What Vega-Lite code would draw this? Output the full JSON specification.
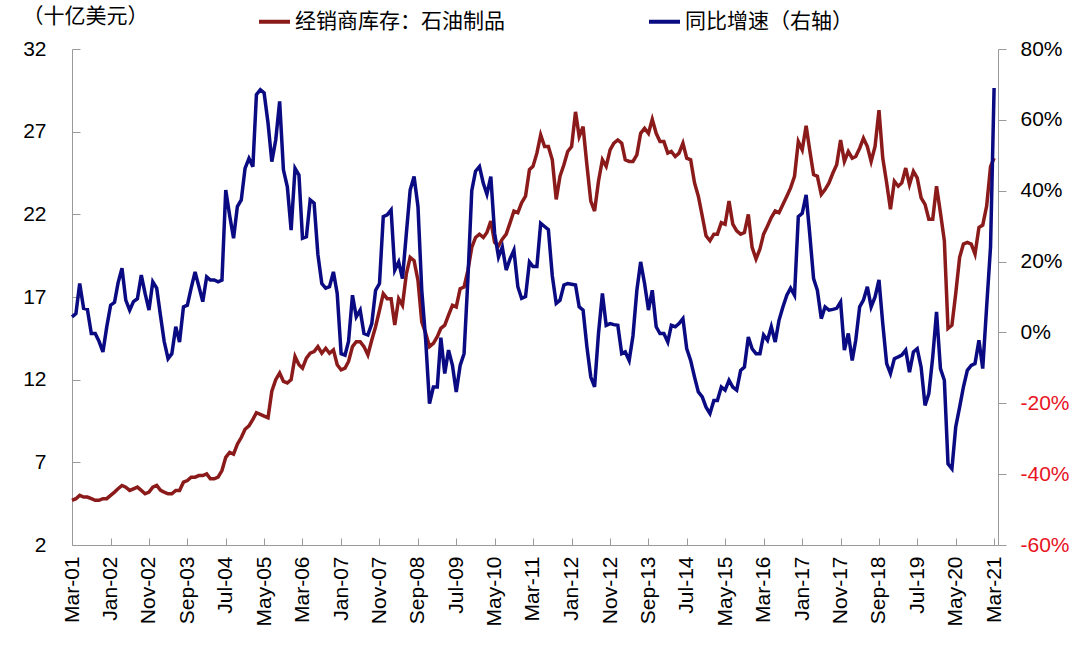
{
"$schema": "https://vega.github.io/schema/vega-lite/v6.json",
"autosize": {"type": "none"},
"padding": {"left": 72, "top": 49, "right": 82, "bottom": 103},
"width": 926,
"height": 496,
"background": "white",
"data": {"values": [
{"d":"2001-03-01","inv":4.7,"yoy":4.4},{"d":"2001-04-01","inv":4.8,"yoy":5.3},{"d":"2001-05-01","inv":5.0,"yoy":13.8},{"d":"2001-06-01","inv":4.9,"yoy":6.8},{"d":"2001-07-01","inv":4.9,"yoy":6.5},{"d":"2001-08-01","inv":4.8,"yoy":-0.3},{"d":"2001-09-01","inv":4.7,"yoy":-0.3},{"d":"2001-10-01","inv":4.7,"yoy":-2.5},{"d":"2001-11-01","inv":4.8,"yoy":-5.5},{"d":"2001-12-01","inv":4.8,"yoy":1.5},
{"d":"2002-01-01","inv":5.0,"yoy":7.7},{"d":"2002-02-01","inv":5.2,"yoy":8.5},{"d":"2002-03-01","inv":5.4,"yoy":14},{"d":"2002-04-01","inv":5.6,"yoy":18.1},{"d":"2002-05-01","inv":5.5,"yoy":9.1},{"d":"2002-06-01","inv":5.3,"yoy":6.3},{"d":"2002-07-01","inv":5.4,"yoy":8.7},{"d":"2002-08-01","inv":5.5,"yoy":9.5},{"d":"2002-09-01","inv":5.3,"yoy":16.2},{"d":"2002-10-01","inv":5.1,"yoy":11},{"d":"2002-11-01","inv":5.2,"yoy":6.3},{"d":"2002-12-01","inv":5.5,"yoy":14.3},
{"d":"2003-01-01","inv":5.6,"yoy":12.5},{"d":"2003-02-01","inv":5.3,"yoy":4.5},{"d":"2003-03-01","inv":5.2,"yoy":-2.5},{"d":"2003-04-01","inv":5.1,"yoy":-7.4},{"d":"2003-05-01","inv":5.1,"yoy":-6},{"d":"2003-06-01","inv":5.3,"yoy":1.6},{"d":"2003-07-01","inv":5.3,"yoy":-2.7},{"d":"2003-08-01","inv":5.8,"yoy":7.2},{"d":"2003-09-01","inv":5.9,"yoy":7.7},{"d":"2003-10-01","inv":6.1,"yoy":12.5},{"d":"2003-11-01","inv":6.1,"yoy":17.1},{"d":"2003-12-01","inv":6.2,"yoy":13},
{"d":"2004-01-01","inv":6.2,"yoy":8.7},{"d":"2004-02-01","inv":6.3,"yoy":15.7},{"d":"2004-03-01","inv":6.0,"yoy":14.8},{"d":"2004-04-01","inv":6.0,"yoy":14.8},{"d":"2004-05-01","inv":6.1,"yoy":14.3},{"d":"2004-06-01","inv":6.5,"yoy":14.8},{"d":"2004-07-01","inv":7.3,"yoy":40.2},{"d":"2004-08-01","inv":7.6,"yoy":33},{"d":"2004-09-01","inv":7.5,"yoy":26.6},{"d":"2004-10-01","inv":8.1,"yoy":35.5},{"d":"2004-11-01","inv":8.5,"yoy":37.4},{"d":"2004-12-01","inv":9.0,"yoy":46.3},
{"d":"2005-01-01","inv":9.2,"yoy":49.1},{"d":"2005-02-01","inv":9.6,"yoy":46.8},{"d":"2005-03-01","inv":10.0,"yoy":67.1},{"d":"2005-04-01","inv":9.9,"yoy":68.5},{"d":"2005-05-01","inv":9.8,"yoy":67.6},{"d":"2005-06-01","inv":9.7,"yoy":59.1},{"d":"2005-07-01","inv":11.3,"yoy":48.2},{"d":"2005-08-01","inv":12.0,"yoy":54.3},{"d":"2005-09-01","inv":12.4,"yoy":65.2},{"d":"2005-10-01","inv":11.9,"yoy":45.9},{"d":"2005-11-01","inv":11.8,"yoy":41.1},{"d":"2005-12-01","inv":12.0,"yoy":28.9},
{"d":"2006-01-01","inv":13.4,"yoy":46.3},{"d":"2006-02-01","inv":12.9,"yoy":44.4},{"d":"2006-03-01","inv":12.7,"yoy":26.6},{"d":"2006-04-01","inv":13.3,"yoy":27},{"d":"2006-05-01","inv":13.6,"yoy":37.4},{"d":"2006-06-01","inv":13.7,"yoy":36.5},{"d":"2006-07-01","inv":14.0,"yoy":22},{"d":"2006-08-01","inv":13.6,"yoy":13.8},{"d":"2006-09-01","inv":13.9,"yoy":12.5},{"d":"2006-10-01","inv":13.6,"yoy":12.9},{"d":"2006-11-01","inv":13.8,"yoy":17.1},{"d":"2006-12-01","inv":12.9,"yoy":11},
{"d":"2007-01-01","inv":12.6,"yoy":-6},{"d":"2007-02-01","inv":12.7,"yoy":-6.4},{"d":"2007-03-01","inv":13.1,"yoy":-2.5},{"d":"2007-04-01","inv":14.0,"yoy":10.5},{"d":"2007-05-01","inv":14.3,"yoy":4.4},{"d":"2007-06-01","inv":14.3,"yoy":6.3},{"d":"2007-07-01","inv":14.0,"yoy":-0.3},{"d":"2007-08-01","inv":13.5,"yoy":-0.7},{"d":"2007-09-01","inv":14.4,"yoy":2.5},{"d":"2007-10-01","inv":15.2,"yoy":11.9},{"d":"2007-11-01","inv":16.2,"yoy":13.8},{"d":"2007-12-01","inv":17.2,"yoy":32.7},
{"d":"2008-01-01","inv":16.9,"yoy":33.2},{"d":"2008-02-01","inv":16.9,"yoy":34.6},{"d":"2008-03-01","inv":15.3,"yoy":17.6},{"d":"2008-04-01","inv":16.9,"yoy":19.9},{"d":"2008-05-01","inv":16.5,"yoy":15.2},{"d":"2008-06-01","inv":18.4,"yoy":28},{"d":"2008-07-01","inv":19.4,"yoy":40.2},{"d":"2008-08-01","inv":19.2,"yoy":44},{"d":"2008-09-01","inv":18.0,"yoy":35.5},{"d":"2008-10-01","inv":15.5,"yoy":11.9},{"d":"2008-11-01","inv":14.8,"yoy":-2.2},{"d":"2008-12-01","inv":14.0,"yoy":-20.1},
{"d":"2009-01-01","inv":14.2,"yoy":-15.4},{"d":"2009-02-01","inv":14.6,"yoy":-15.4},{"d":"2009-03-01","inv":15.1,"yoy":-1.5},{"d":"2009-04-01","inv":15.3,"yoy":-11.6},{"d":"2009-05-01","inv":15.9,"yoy":-5},{"d":"2009-06-01","inv":16.5,"yoy":-9.3},{"d":"2009-07-01","inv":16.4,"yoy":-16.8},{"d":"2009-08-01","inv":17.5,"yoy":-9.3},{"d":"2009-09-01","inv":17.6,"yoy":-6},{"d":"2009-10-01","inv":18.6,"yoy":14.8},{"d":"2009-11-01","inv":20.0,"yoy":40},{"d":"2009-12-01","inv":20.6,"yoy":45.5},
{"d":"2010-01-01","inv":20.8,"yoy":46.8},{"d":"2010-02-01","inv":20.6,"yoy":42},{"d":"2010-03-01","inv":20.9,"yoy":39},{"d":"2010-04-01","inv":21.6,"yoy":44},{"d":"2010-05-01","inv":20.3,"yoy":28},{"d":"2010-06-01","inv":20.1,"yoy":21.3},{"d":"2010-07-01","inv":20.5,"yoy":24.1},{"d":"2010-08-01","inv":20.8,"yoy":17.6},{"d":"2010-09-01","inv":21.5,"yoy":20.8},{"d":"2010-10-01","inv":22.2,"yoy":23.2},{"d":"2010-11-01","inv":22.1,"yoy":12.9},{"d":"2010-12-01","inv":22.7,"yoy":9.6},
{"d":"2011-01-01","inv":23.1,"yoy":10.1},{"d":"2011-02-01","inv":24.7,"yoy":19.9},{"d":"2011-03-01","inv":24.9,"yoy":18.6},{"d":"2011-04-01","inv":25.7,"yoy":18.6},{"d":"2011-05-01","inv":26.8,"yoy":30.8},{"d":"2011-06-01","inv":26.1,"yoy":29.9},{"d":"2011-07-01","inv":26.1,"yoy":29},{"d":"2011-08-01","inv":25.3,"yoy":16},{"d":"2011-09-01","inv":22.9,"yoy":8.2},{"d":"2011-10-01","inv":24.3,"yoy":9.1},{"d":"2011-11-01","inv":25.0,"yoy":13.4},{"d":"2011-12-01","inv":25.8,"yoy":13.8},
{"d":"2012-01-01","inv":26.1,"yoy":13.6},{"d":"2012-02-01","inv":28.2,"yoy":13.4},{"d":"2012-03-01","inv":26.7,"yoy":7.2},{"d":"2012-04-01","inv":27.3,"yoy":6.3},{"d":"2012-05-01","inv":25.0,"yoy":-4},{"d":"2012-06-01","inv":22.8,"yoy":-12.6},{"d":"2012-07-01","inv":22.2,"yoy":-15.4},{"d":"2012-08-01","inv":24.0,"yoy":-0.3},{"d":"2012-09-01","inv":25.3,"yoy":11},{"d":"2012-10-01","inv":24.9,"yoy":2.0},{"d":"2012-11-01","inv":25.9,"yoy":2.5},{"d":"2012-12-01","inv":26.3,"yoy":2.2},
{"d":"2013-01-01","inv":26.5,"yoy":2.0},{"d":"2013-02-01","inv":26.3,"yoy":-6},{"d":"2013-03-01","inv":25.3,"yoy":-5.5},{"d":"2013-04-01","inv":25.2,"yoy":-7.9},{"d":"2013-05-01","inv":25.2,"yoy":-1},{"d":"2013-06-01","inv":25.6,"yoy":11.9},{"d":"2013-07-01","inv":26.9,"yoy":19.9},{"d":"2013-08-01","inv":27.2,"yoy":13.8},{"d":"2013-09-01","inv":26.9,"yoy":6.3},{"d":"2013-10-01","inv":27.75,"yoy":11.9},{"d":"2013-11-01","inv":26.9,"yoy":1.6},{"d":"2013-12-01","inv":26.4,"yoy":-0.3},
{"d":"2014-01-01","inv":26.4,"yoy":-0.3},{"d":"2014-02-01","inv":25.7,"yoy":-2.7},{"d":"2014-03-01","inv":25.8,"yoy":2.0},{"d":"2014-04-01","inv":25.5,"yoy":1.6},{"d":"2014-05-01","inv":25.7,"yoy":2.5},{"d":"2014-06-01","inv":26.3,"yoy":3.9},{"d":"2014-07-01","inv":25.4,"yoy":-4.6},{"d":"2014-08-01","inv":25.3,"yoy":-7.9},{"d":"2014-09-01","inv":23.9,"yoy":-12.6},{"d":"2014-10-01","inv":23.1,"yoy":-16.8},{"d":"2014-11-01","inv":21.9,"yoy":-18.2},{"d":"2014-12-01","inv":20.7,"yoy":-21.1},
{"d":"2015-01-01","inv":20.4,"yoy":-22.9},{"d":"2015-02-01","inv":20.8,"yoy":-19.2},{"d":"2015-03-01","inv":20.8,"yoy":-19.2},{"d":"2015-04-01","inv":21.5,"yoy":-15.4},{"d":"2015-05-01","inv":21.4,"yoy":-16.3},{"d":"2015-06-01","inv":22.8,"yoy":-13.5},{"d":"2015-07-01","inv":21.4,"yoy":-15.4},{"d":"2015-08-01","inv":21.0,"yoy":-16.3},{"d":"2015-09-01","inv":20.8,"yoy":-10.7},{"d":"2015-10-01","inv":20.9,"yoy":-9.8},{"d":"2015-11-01","inv":22.0,"yoy":-1.3},{"d":"2015-12-01","inv":20.0,"yoy":-4.6},
{"d":"2016-01-01","inv":19.3,"yoy":-6},{"d":"2016-02-01","inv":19.9,"yoy":-6},{"d":"2016-03-01","inv":20.8,"yoy":-0.7},{"d":"2016-04-01","inv":21.3,"yoy":-2.2},{"d":"2016-05-01","inv":21.8,"yoy":1.6},{"d":"2016-06-01","inv":22.2,"yoy":-2.7},{"d":"2016-07-01","inv":22.1,"yoy":3.4},{"d":"2016-08-01","inv":22.6,"yoy":7.2},{"d":"2016-09-01","inv":23.1,"yoy":10.5},{"d":"2016-10-01","inv":23.6,"yoy":12.5},{"d":"2016-11-01","inv":24.3,"yoy":10.5},{"d":"2016-12-01","inv":26.4,"yoy":32.7},
{"d":"2017-01-01","inv":25.9,"yoy":33.6},{"d":"2017-02-01","inv":27.35,"yoy":38.8},{"d":"2017-03-01","inv":25.9,"yoy":28},{"d":"2017-04-01","inv":24.4,"yoy":15.2},{"d":"2017-05-01","inv":24.3,"yoy":11.9},{"d":"2017-06-01","inv":23.2,"yoy":3.9},{"d":"2017-07-01","inv":23.5,"yoy":7.2},{"d":"2017-08-01","inv":23.9,"yoy":6.3},{"d":"2017-09-01","inv":24.5,"yoy":6.5},{"d":"2017-10-01","inv":25.0,"yoy":6.8},{"d":"2017-11-01","inv":26.5,"yoy":8.6},{"d":"2017-12-01","inv":25.2,"yoy":-5},
{"d":"2018-01-01","inv":25.8,"yoy":-0.3},{"d":"2018-02-01","inv":25.4,"yoy":-7.9},{"d":"2018-03-01","inv":25.5,"yoy":-2.2},{"d":"2018-04-01","inv":26.0,"yoy":7.2},{"d":"2018-05-01","inv":26.6,"yoy":9.1},{"d":"2018-06-01","inv":26.1,"yoy":12.9},{"d":"2018-07-01","inv":25.2,"yoy":7.2},{"d":"2018-08-01","inv":26.1,"yoy":10},{"d":"2018-09-01","inv":28.3,"yoy":14.8},{"d":"2018-10-01","inv":25.4,"yoy":2.5},{"d":"2018-11-01","inv":23.9,"yoy":-8.8},{"d":"2018-12-01","inv":22.3,"yoy":-11.6},
{"d":"2019-01-01","inv":24.0,"yoy":-7.4},{"d":"2019-02-01","inv":23.7,"yoy":-6.9},{"d":"2019-03-01","inv":23.9,"yoy":-6.4},{"d":"2019-04-01","inv":24.8,"yoy":-5},{"d":"2019-05-01","inv":23.8,"yoy":-11.2},{"d":"2019-06-01","inv":24.6,"yoy":-5.5},{"d":"2019-07-01","inv":24.2,"yoy":-4.6},{"d":"2019-08-01","inv":23.0,"yoy":-9.8},{"d":"2019-09-01","inv":22.6,"yoy":-20.6},{"d":"2019-10-01","inv":21.7,"yoy":-17.3},{"d":"2019-11-01","inv":21.7,"yoy":-6.9},{"d":"2019-12-01","inv":23.7,"yoy":5.8},
{"d":"2020-01-01","inv":22.1,"yoy":-10.2},{"d":"2020-02-01","inv":20.4,"yoy":-13.5},{"d":"2020-03-01","inv":15.1,"yoy":-37.1},{"d":"2020-04-01","inv":15.3,"yoy":-38.5},{"d":"2020-05-01","inv":17.2,"yoy":-26.7},{"d":"2020-06-01","inv":19.4,"yoy":-21.1},{"d":"2020-07-01","inv":20.2,"yoy":-15.4},{"d":"2020-08-01","inv":20.3,"yoy":-10.7},{"d":"2020-09-01","inv":20.2,"yoy":-9.3},{"d":"2020-10-01","inv":19.6,"yoy":-8.8},{"d":"2020-11-01","inv":21.2,"yoy":-2.2},{"d":"2020-12-01","inv":21.35,"yoy":-10.2},
{"d":"2021-01-01","inv":22.5,"yoy":7.2},{"d":"2021-02-01","inv":24.9,"yoy":24.2},{"d":"2021-03-01","inv":25.4,"yoy":69}
]},
"encoding": {
  "x": {"field": "d", "type": "temporal",
    "scale": {"type": "utc", "domain": [{"year": 2001, "month": 3, "date": 1, "utc": true}, {"year": 2021, "month": 4, "date": 1, "utc": true}]},
    "axis": {"title": null, "format": "%b-%y", "labelAngle": 270, "labelAlign": "right", "labelBaseline": "middle", "tickSize": -7, "labelPadding": 18,
      "values": [
        {"year": 2001, "month": 3, "date": 1, "utc": true}, {"year": 2002, "month": 1, "date": 1, "utc": true}, {"year": 2002, "month": 11, "date": 1, "utc": true},
        {"year": 2003, "month": 9, "date": 1, "utc": true}, {"year": 2004, "month": 7, "date": 1, "utc": true}, {"year": 2005, "month": 5, "date": 1, "utc": true},
        {"year": 2006, "month": 3, "date": 1, "utc": true}, {"year": 2007, "month": 1, "date": 1, "utc": true}, {"year": 2007, "month": 11, "date": 1, "utc": true},
        {"year": 2008, "month": 9, "date": 1, "utc": true}, {"year": 2009, "month": 7, "date": 1, "utc": true}, {"year": 2010, "month": 5, "date": 1, "utc": true},
        {"year": 2011, "month": 3, "date": 1, "utc": true}, {"year": 2012, "month": 1, "date": 1, "utc": true}, {"year": 2012, "month": 11, "date": 1, "utc": true},
        {"year": 2013, "month": 9, "date": 1, "utc": true}, {"year": 2014, "month": 7, "date": 1, "utc": true}, {"year": 2015, "month": 5, "date": 1, "utc": true},
        {"year": 2016, "month": 3, "date": 1, "utc": true}, {"year": 2017, "month": 1, "date": 1, "utc": true}, {"year": 2017, "month": 11, "date": 1, "utc": true},
        {"year": 2018, "month": 9, "date": 1, "utc": true}, {"year": 2019, "month": 7, "date": 1, "utc": true}, {"year": 2020, "month": 5, "date": 1, "utc": true},
        {"year": 2021, "month": 3, "date": 1, "utc": true}
      ]}}
},
"layer": [
  {"mark": {"type": "line", "strokeWidth": 3.5},
   "encoding": {
     "y": {"field": "inv", "type": "quantitative", "scale": {"domain": [2, 32], "nice": false, "zero": false},
       "axis": {"orient": "left", "values": [2, 7, 12, 17, 22, 27, 32], "tickSize": -8, "labelPadding": 34,
         "title": "（十亿美元）", "titleAngle": 0, "titleAlign": "left", "titleBaseline": "middle", "titleX": -50, "titleY": -33,
         "titleFont": "Noto Sans CJK SC", "titleFontSize": 21, "titleFontWeight": "normal", "titleColor": "black"}},
     "color": {"datum": "经销商库存：石油制品", "type": "nominal"}
   }},
  {"mark": {"type": "line", "strokeWidth": 3.5},
   "encoding": {
     "y": {"field": "yoy", "type": "quantitative", "scale": {"domain": [-60, 80], "nice": false, "zero": false},
       "axis": {"orient": "right", "values": [-60, -40, -20, 0, 20, 40, 60, 80], "tickSize": 8, "labelPadding": 14, "title": null,
         "labelExpr": "datum.value + '%'",
         "labelColor": {"condition": {"test": "datum.value < 0", "value": "#e8141e"}, "value": "black"}}},
     "color": {"datum": "同比增速（右轴）", "type": "nominal"}
   }}
],
"resolve": {"scale": {"y": "independent"}, "axis": {"y": "independent"}},
"config": {
  "view": {"stroke": null},
  "axis": {"grid": false, "domainColor": "#9a9a9a", "tickColor": "#9a9a9a", "labelFont": "Liberation Sans", "labelFontSize": 21, "labelColor": "black"},
  "range": {"category": ["#8b1a1a", "#0a0a82"]},
  "legend": {"orient": "none", "legendX": 185, "legendY": -45, "direction": "horizontal", "title": null,
    "symbolType": "stroke", "symbolSize": 961, "symbolStrokeWidth": 4, "labelFont": "Noto Sans CJK SC", "labelFontSize": 21,
    "labelColor": "black", "labelOffset": 3, "columnPadding": 136, "labelLimit": 400}
}
}
